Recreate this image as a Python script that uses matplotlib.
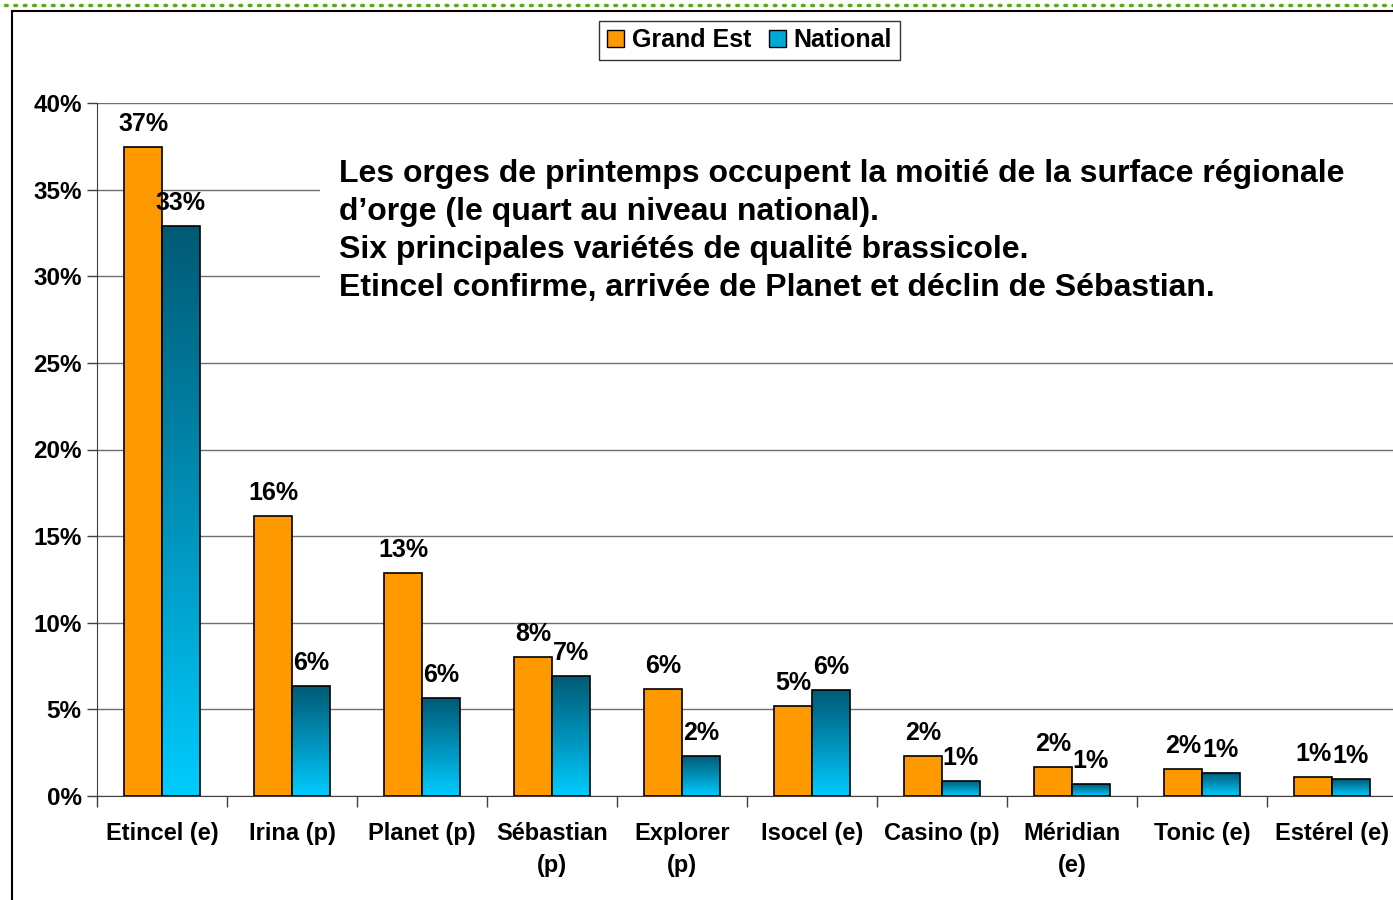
import matplotlib
matplotlib.use('Agg')
import matplotlib.pyplot as plt
import numpy as np
from matplotlib.patches import Rectangle, Patch
from matplotlib.lines import Line2D
from matplotlib.colors import LinearSegmentedColormap

plt.rcParams['font.family'] = ['Liberation Sans', 'DejaVu Sans']
plt.rcParams['font.weight'] = 'bold'

varietes = ['Etincel (e)', 'Irina (p)', 'Planet (p)', 'Sébastian\n(p)', 'Explorer\n(p)',
            'Isocel (e)', 'Casino (p)', 'Méridian\n(e)', 'Tonic (e)', 'Estérel (e)']
grand_est = [37.46, 16.16, 12.87, 8.02, 6.18, 5.19, 2.31, 1.67, 1.56, 1.10]
national = [32.9, 6.35, 5.66, 6.93, 2.31, 6.12, 0.87, 0.69, 1.33, 0.98]
yticks = [0, 5, 10, 15, 20, 25, 30, 35, 40]
commentaire = ("Les orges de printemps occupent la moitié de la surface régionale\n"
               "d\u2019orge (le quart au niveau national).\n"
               "Six principales variétés de qualité brassicole.\n"
               "Etincel confirme, arrivée de Planet et déclin de Sébastian.")

W, H = 1393, 900
fig = plt.figure(figsize=(W / 100, H / 100), dpi=100)
ax = fig.add_axes([97 / W, 1 - 796 / H, 1300 / W, 693 / H])

x = np.arange(len(varietes))
w = 0.29
orange = '#FF9900'
grad = LinearSegmentedColormap.from_list('nat', ['#00CCFF', '#0090B8', '#005A75'])

b1 = ax.bar(x - w / 2, grand_est, w, color=orange, edgecolor='black', linewidth=1.2, zorder=3)
b2 = ax.bar(x + w / 2, national, w, color='none', edgecolor='black', linewidth=1.2, zorder=4)

# degrade sur chaque barre nationale
g = np.linspace(0, 1, 256).reshape(-1, 1)
for bar in b2:
    x0, y0 = bar.get_x(), bar.get_y()
    im = ax.imshow(g, cmap=grad, origin='lower', aspect='auto',
                   extent=[x0, x0 + bar.get_width(), y0, y0 + bar.get_height()], zorder=3)
    im.set_clip_path(bar)

ax.bar_label(b1, labels=['%d%%' % round(v) for v in grand_est], padding=8,
             fontsize=18, fontweight='bold', zorder=5)
ax.bar_label(b2, labels=['%d%%' % round(v) for v in national], padding=8,
             fontsize=18, fontweight='bold', zorder=5)

ax.set_ylim(0, 40)
ax.set_yticks(yticks)
ax.set_yticklabels(['%d%%' % v for v in yticks], fontsize=17.5, fontweight='bold')
ax.tick_params(axis='y', direction='out', length=7, width=1, pad=4, colors='#404040', labelcolor='black')
ax.set_xticks(np.arange(len(varietes) + 1) - 0.5)
ax.set_xticklabels([])
ax.set_xticks(x, minor=True)
ax.set_xticklabels(varietes, minor=True, fontsize=17, fontweight='bold', linespacing=1.5)
ax.tick_params(axis='x', which='minor', length=0, pad=19)
ax.tick_params(axis='x', which='major', direction='out', length=8, width=1, colors='#404040')
ax.set_xlim(-0.5, len(varietes) - 0.5)

ax.grid(axis='y', color='#707070', linewidth=1, zorder=0)
ax.set_axisbelow(True)
for s in ['top', 'right']:
    ax.spines[s].set_visible(False)
ax.spines['left'].set_color('#404040')
ax.spines['bottom'].set_color('#404040')

# legende
handles = [Patch(facecolor=orange, edgecolor='black', label='Grand Est'),
           Patch(facecolor='#00A8D8', edgecolor='black', label='National')]
leg = fig.legend(handles=handles, loc='center', bbox_to_anchor=(749.5 / W, 1 - 40 / H), ncol=2,
                 frameon=True, fancybox=False, edgecolor='black', fontsize=18,
                 handlelength=0.7, handleheight=0.7, handletextpad=0.3, columnspacing=0.7,
                 borderpad=0.3)
leg.get_frame().set_linewidth(1.0)
for t in leg.get_texts():
    t.set_fontweight('bold')

# encadre blanc + commentaire
fig.patches.append(Rectangle((320 / W, 1 - 318 / H), 1, 178 / H, transform=fig.transFigure,
                             facecolor='white', edgecolor='none', zorder=2))
fig.text(339 / W, 1 - 159 / H, commentaire, ha='left', va='top', fontsize=23,
         fontweight='bold', linespacing=1.35, zorder=3)

# cadre et pointilles
fig.add_artist(Line2D([12 / W, 12 / W], [0, 1 - 11 / H], color='black', lw=1.5, transform=fig.transFigure))
fig.add_artist(Line2D([12 / W, 1], [1 - 11 / H, 1 - 11 / H], color='black', lw=1.5, transform=fig.transFigure))
fig.add_artist(Line2D([5 / W, 1], [1 - 5 / H, 1 - 5 / H], color='#5AAA14', lw=2.5,
                      linestyle=(0, (0.5, 2.2)), dash_capstyle='round', transform=fig.transFigure))

fig.savefig('out.png', dpi=100)
